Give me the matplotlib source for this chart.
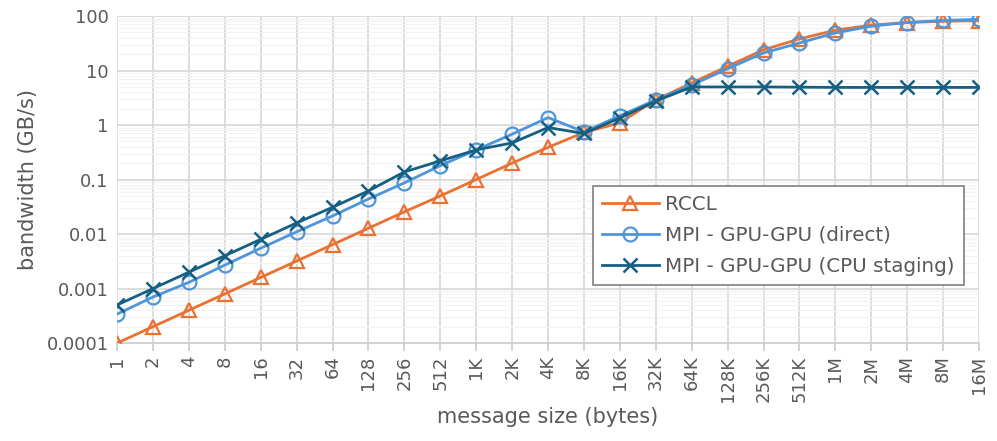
import numpy as np
import matplotlib.pyplot as plt
from matplotlib.ticker import LogLocator, NullFormatter

# message sizes (category labels)
sizes = ['1', '2', '4', '8', '16', '32', '64', '128', '256', '512',
         '1K', '2K', '4K', '8K', '16K', '32K', '64K', '128K', '256K', '512K',
         '1M', '2M', '4M', '8M', '16M']

# bandwidth in GB/s
rccl = [0.0001, 0.0002, 0.0004, 0.0008, 0.0016, 0.0032, 0.0064, 0.0128, 0.0256, 0.05,
        0.1, 0.2, 0.39, 0.73, 1.1, 2.9, 5.9, 12.0, 24.0, 38.0,
        55.0, 68.0, 76.0, 80.0, 82.0]
mpi_direct = [0.00034, 0.0007, 0.0013, 0.0027, 0.0055, 0.011, 0.0215, 0.044, 0.087, 0.18,
              0.35, 0.68, 1.37, 0.75, 1.48, 2.9, 5.4, 10.8, 21.0, 32.0,
              49.0, 65.0, 76.0, 83.0, 87.0]
mpi_staging = [0.0005, 0.001, 0.002, 0.004, 0.008, 0.016, 0.031, 0.062, 0.138, 0.22,
               0.35, 0.47, 0.9, 0.7, 1.35, 2.75, 5.0, 5.0, 5.0, 4.95,
               4.9, 4.9, 4.9, 4.9, 4.9]

c_rccl = '#E97132'
c_direct = '#4E95D9'
c_staging = '#156082'

fig = plt.figure(figsize=(9.97, 4.41), dpi=100)
ax = fig.add_axes([0.1174, 0.222, 0.982 - 0.1174, 0.9637 - 0.222])

x = np.arange(len(sizes))
ax.plot(x, rccl, color=c_rccl, lw=2, marker='^', ms=10, mfc='none', mew=1.6, label='RCCL', zorder=3)
ax.plot(x, mpi_direct, color=c_direct, lw=2, marker='o', ms=10, mfc='none', mew=1.6,
        label='MPI - GPU-GPU (direct)', zorder=4)
ax.plot(x, mpi_staging, color=c_staging, lw=2, marker='x', ms=10, mew=1.8,
        label='MPI - GPU-GPU (CPU staging)', zorder=5)

ax.set_yscale('log')
ax.set_ylim(0.0001, 100)
ax.set_xlim(0, len(sizes) - 1)
ax.set_yticks([0.0001, 0.001, 0.01, 0.1, 1, 10, 100])
ax.set_yticklabels(['0.0001', '0.001', '0.01', '0.1', '1', '10', '100'])
ax.yaxis.set_minor_locator(LogLocator(base=10, subs=np.arange(2, 10)))
ax.yaxis.set_minor_formatter(NullFormatter())
ax.set_xticks(x)
ax.set_xticklabels(sizes, rotation=90)

ax.grid(True, which='major', axis='both', color='#d9d9d9', lw=1.3)
ax.grid(True, which='minor', axis='y', color='#f2f2f2', lw=0.8)
ax.set_axisbelow(True)

for s in ['top', 'right', 'left']:
    ax.spines[s].set_visible(False)
ax.spines['bottom'].set_color('#d0d0d0')
ax.spines['bottom'].set_linewidth(1.3)
ax.tick_params(axis='y', which='both', length=0, labelsize=13, colors='#595959', pad=6)
ax.tick_params(axis='x', length=6, color='#d0d0d0', width=1.3, labelsize=13,
               labelcolor='#595959', pad=3)

ax.set_xlabel('message size (bytes)', fontsize=15, color='#595959', labelpad=4)
ax.set_ylabel('bandwidth (GB/s)', fontsize=15, color='#595959', labelpad=6)

leg = ax.legend(loc='upper left', bbox_to_anchor=(0.5518, 0.48), fontsize=14.3,
                frameon=True, fancybox=False, edgecolor='#7f7f7f', framealpha=1,
                handlelength=2.9, borderpad=0.45, labelspacing=0.6, handletextpad=0.3,
                borderaxespad=0)
leg.get_frame().set_linewidth(1.2)
for t in leg.get_texts():
    t.set_color('#595959')

fig.savefig('out.png', dpi=100)
